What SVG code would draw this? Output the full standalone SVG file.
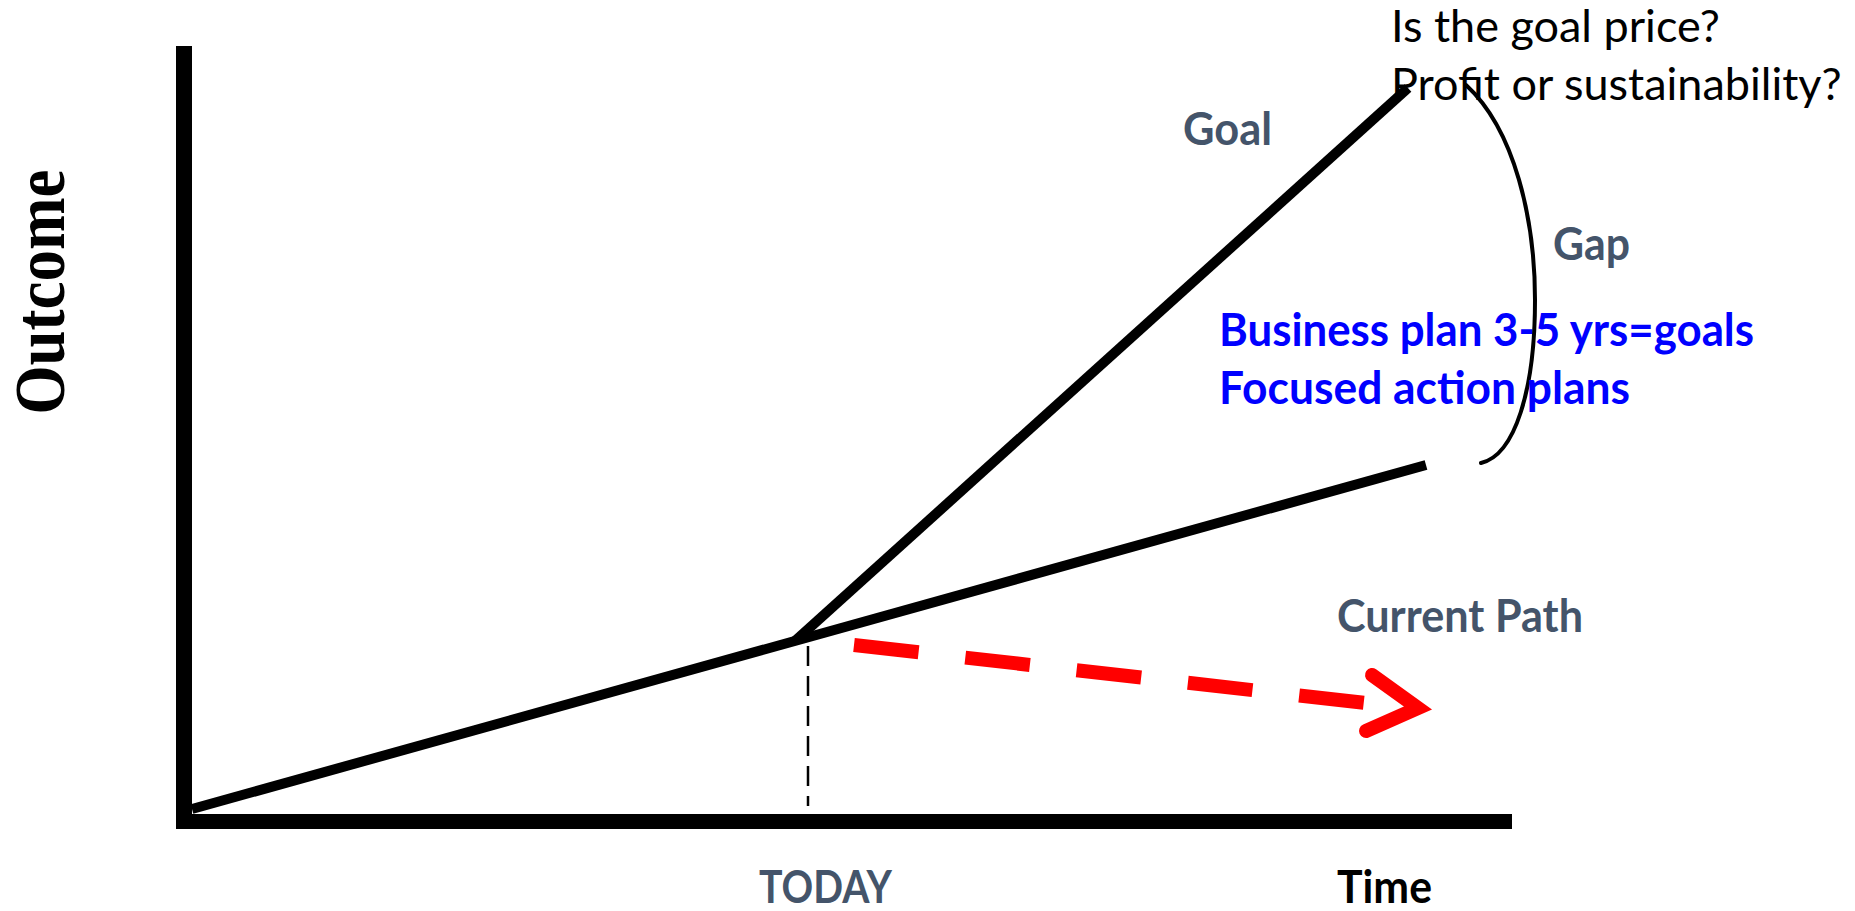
<svg xmlns="http://www.w3.org/2000/svg" width="1855" height="911" viewBox="0 0 1855 911">
<style>
.lbl{font-family:Lato,"Open Sans","Liberation Sans",sans-serif;font-weight:bold;font-size:46px;fill:#44546A}
.blue{font-family:Lato,"Open Sans","Liberation Sans",sans-serif;font-weight:bold;font-size:46px;fill:#0000FF}
.q{font-family:Lato,"Open Sans","Liberation Sans",sans-serif;font-size:45px;fill:#000}
.axis{fill:#000}
.path{stroke:#000;stroke-width:10;fill:none;stroke-linecap:butt}
</style>
<rect width="1855" height="911" fill="#fff"/>
<g id="axes">
<rect class="axis" x="176" y="46" width="16" height="783"/>
<rect class="axis" x="176" y="814" width="1336" height="15"/>
</g>
<g id="outcome-label">
<text transform="translate(64,292) rotate(-90)" text-anchor="middle" font-family="'Liberation Serif','Times New Roman',serif" font-weight="bold" font-size="72" textLength="245" lengthAdjust="spacingAndGlyphs">Outcome</text>
</g>
<g id="connectors">
<line class="path" x1="192" y1="809" x2="1426" y2="465"/>
<line class="path" x1="795" y1="641" x2="1408" y2="88"/>
<line x1="808" y1="646" x2="808" y2="806" stroke="#000" stroke-width="2.5" stroke-dasharray="20 10"/>
<line x1="854" y1="645" x2="1366" y2="703" stroke="#FF0000" stroke-width="14" stroke-dasharray="65 47"/>
<polyline points="1372,675 1418,708 1366,731" fill="none" stroke="#FF0000" stroke-width="14" stroke-linecap="round" stroke-linejoin="miter"/>
<path d="M1466,85 C1515,130 1535,220 1535,300 C1535,390 1515,455 1481,463" fill="none" stroke="#000" stroke-width="4" stroke-linecap="round"/>
</g>
<g id="goal"><text class="lbl" x="1183" y="145" textLength="89" lengthAdjust="spacingAndGlyphs">Goal</text></g>
<g id="gap"><text class="lbl" x="1553" y="260" textLength="77" lengthAdjust="spacingAndGlyphs">Gap</text></g>
<g id="current-path"><text class="lbl" x="1337" y="632" textLength="246" lengthAdjust="spacingAndGlyphs">Current Path</text></g>
<g id="today"><text class="lbl" x="759" y="903" textLength="133" lengthAdjust="spacingAndGlyphs">TODAY</text></g>
<g id="time"><text class="lbl" x="1337" y="903" style="fill:#000" textLength="95" lengthAdjust="spacingAndGlyphs">Time</text></g>
<g id="plans">
<text class="blue" x="1219" y="346" textLength="535" lengthAdjust="spacingAndGlyphs">Business plan 3-5 yrs=goals</text>
<text class="blue" x="1219" y="404" textLength="411" lengthAdjust="spacingAndGlyphs">Focused action plans</text>
</g>
<g id="questions">
<text class="q" x="1391" y="42">Is the goal price?</text>
<text class="q" x="1391" y="100">Profit or sustainability?</text>
</g>
</svg>
